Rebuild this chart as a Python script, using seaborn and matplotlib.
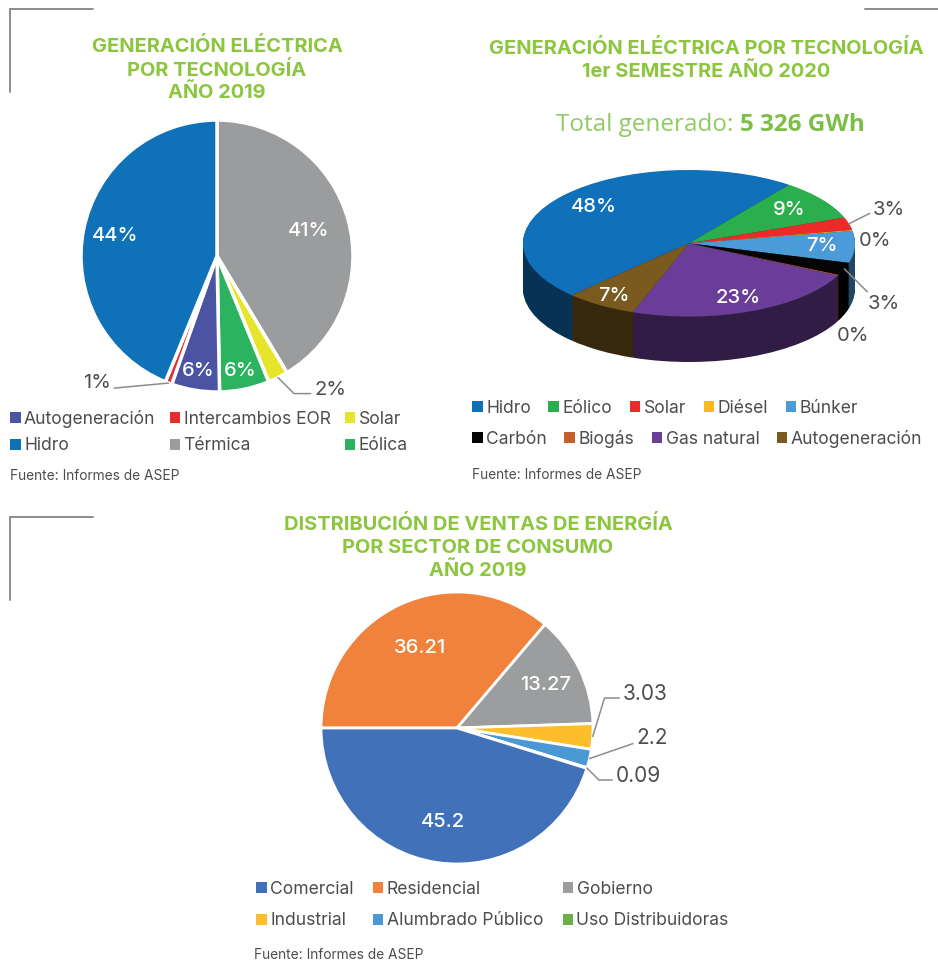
import numpy as np
import matplotlib
matplotlib.use("Agg")
import matplotlib.pyplot as plt
import matplotlib.colors as mcolors
from matplotlib.patches import Patch
from matplotlib.lines import Line2D
import seaborn as sns

sns.set_theme(style="white")
plt.rcParams['font.family'] = ['Inter', 'DejaVu Sans']

# ---------------- data ----------------
gen19_labels = ['Térmica', 'Solar', 'Eólica', 'Autogeneración', 'Intercambios EOR', 'Hidro']
gen19_values = [41.4, 2.4, 5.9, 5.7, 0.8, 43.8]
gen19_colors = ['#9A9C9D', '#E6E52B', '#2CB35F', '#4A54A3', '#E52D2B', '#0F72B9']
gen19_legend = ['Autogeneración', 'Intercambios EOR', 'Solar', 'Hidro', 'Térmica', 'Eólica']

gen20_labels = ['Hidro', 'Eólico', 'Solar', 'Diésel', 'Búnker', 'Carbón', 'Biogás',
                'Gas natural', 'Autogeneración']
gen20_values = [47.8, 9.0, 2.8, 0.2, 7.0, 2.8, 0.2, 23.2, 7.0]
gen20_colors = ['#1170BA', '#2BAE4E', '#EC2A2A', '#FBBA1A', '#4B9BD8', '#050505',
                '#C4602B', '#6A3E98', '#7A5A1E']
gen20_total = '5 326 GWh'

ventas_labels = ['Residencial', 'Gobierno', 'Industrial', 'Alumbrado Público',
                 'Uso Distribuidoras', 'Comercial']
ventas_values = [36.21, 13.27, 3.03, 2.2, 0.09, 45.2]
ventas_text = ['36.21', '13.27', '3.03', '2.2', '0.09', '45.2']
ventas_colors = ['#F0823B', '#9B9D9E', '#FDBE2B', '#4B99D4', '#6DB048', '#4171B8']
ventas_legend = ['Comercial', 'Residencial', 'Gobierno', 'Industrial',
                 'Alumbrado Público', 'Uso Distribuidoras']

GREEN = '#8CC63F'
TXT = '#4d4d4d'
LINE = '#8a8c8e'
LAB = 14.5   # slice label size

W, H = 938, 965
fig = plt.figure(figsize=(W / 100, H / 100), dpi=100)


def box(x0, y0, x1, y1):
    ax = fig.add_axes([x0 / W, 1 - y1 / H, (x1 - x0) / W, (y1 - y0) / H])
    ax.set_axis_off()
    return ax


def ftext(px, py, s, **kw):
    return fig.text(px / W, 1 - py / H, s, **kw)


def mid(w, r=1.0, cy=0.0):
    a = np.deg2rad((w.theta1 + w.theta2) / 2)
    return r * np.cos(a), cy + r * np.sin(a)


def leader(ax, w, s, px, py, cs='arc3', relpos=(0.5, 0.5), r=1.0, size=LAB, **kw):
    ax.annotate(s, xy=mid(w, r), xytext=(px, H - py), textcoords='figure pixels',
                ha=kw.pop('ha', 'center'), va='center', fontsize=size, color=TXT,
                annotation_clip=False,
                arrowprops=dict(arrowstyle='-', color=LINE, lw=1.1, shrinkA=0, shrinkB=0,
                                connectionstyle=cs, relpos=relpos))


def legend(names, colors, order, x, y, ncol, spacing, rows=2, rowgap=0.6):
    lut = dict(zip(names, colors))
    # legend fills column by column, reorder so it reads row by row
    if rows > 1:
        ordered = [order[r * ncol + c] for c in range(ncol) for r in range(rows)
                   if r * ncol + c < len(order)]
    else:
        ordered = list(order)
    handles = [Patch(facecolor=lut[n], edgecolor='none') for n in ordered]
    fig.legend(handles, ordered, loc='center left', bbox_to_anchor=(x / W, 1 - y / H),
               ncol=ncol, frameon=False, fontsize=12.6, labelcolor=TXT,
               handlelength=0.6, handleheight=0.6, handletextpad=0.2,
               columnspacing=spacing, borderpad=0, borderaxespad=0, labelspacing=rowgap)


def title(lines, cx, ys):
    for s, y in zip(lines, ys):
        ftext(cx, y, s, ha='center', va='center', fontsize=14.4, fontweight='bold', color=GREEN)


# corner brackets
for (x0, y0, x1, y1) in [(10, 9, 93, 9), (10, 9, 10, 92), (865, 9, 938, 9),
                         (10, 517, 93, 517), (10, 517, 10, 600)]:
    fig.add_artist(Line2D([x0 / W, x1 / W], [1 - y0 / H, 1 - y1 / H],
                          transform=fig.transFigure, color=LINE, lw=1.4))

# ---------------- chart 1: generación 2019 ----------------
title(['GENERACIÓN ELÉCTRICA', 'POR TECNOLOGÍA', 'AÑO 2019'], 217, [47, 70, 93])
cx, cy, R = 217, 256, 136
ax1 = box(cx - R, cy - R, cx + R, cy + R)
w1, _ = ax1.pie(gen19_values, colors=gen19_colors, startangle=90, counterclock=False,
                radius=1, wedgeprops=dict(edgecolor='white', linewidth=2.5))
ax1.set_aspect('auto')
ax1.set_xlim(-1, 1)
ax1.set_ylim(-1, 1)
inner_r = [0.70, None, 0.86, 0.86, None, 0.76]
for w, v, r in zip(w1, gen19_values, inner_r):
    if r is not None:
        ax1.text(*mid(w, r), f'{v:.0f}%', ha='center', va='center',
                 fontsize=LAB, color='white', fontweight='medium')
leader(ax1, w1[4], f'{gen19_values[4]:.0f}%', 97, 383, relpos=(1, 0.2))
leader(ax1, w1[1], f'{gen19_values[1]:.0f}%', 330, 390,
       cs='angle,angleA=0,angleB=-45', relpos=(0, 0.3))
legend(gen19_labels, gen19_colors, gen19_legend, 10, 432, 3, 0.8, rowgap=0.55)
ftext(10, 476, 'Fuente: Informes de ASEP', ha='left', va='center', fontsize=9.9, color=TXT)

# ---------------- chart 2: generación 1er semestre 2020 (pseudo 3D) ----------------
title(['GENERACIÓN ELÉCTRICA POR TECNOLOGÍA', '1er SEMESTRE AÑO 2020'], 706, [48, 72])
ftext(733, 125, 'Total generado:', ha='right', va='center', fontsize=17.5,
      color='#8FCB62', family=['Open Sans', 'DejaVu Sans'])
ftext(740, 125, gen20_total, ha='left', va='center', fontsize=17.5, fontweight='bold',
      color='#7DBE48', family=['Open Sans', 'DejaVu Sans'])

ex0, ex1, ey0, ey1 = 523, 855, 170, 362
depth = 0.62
ax2 = box(ex0, ey0, ex1, ey1)
side = [tuple(np.array(mcolors.to_rgb(c)) * 0.45) for c in gen20_colors]
for dz in np.linspace(depth, 0.01, 40):
    ax2.pie(gen20_values, colors=side, startangle=225, counterclock=False,
            radius=1, center=(0, -dz), wedgeprops=dict(linewidth=0))
w2, _ = ax2.pie(gen20_values, colors=gen20_colors, startangle=225, counterclock=False,
                radius=1, wedgeprops=dict(linewidth=0))
ax2.set_aspect('auto')
ax2.set_xlim(-1, 1)
ax2.set_ylim(-1 - depth, 1)
inner_r = [0.76, 0.75, None, None, 0.8, None, None, 0.8, 0.85]
for w, v, r in zip(w2, gen20_values, inner_r):
    if r is not None:
        ax2.text(*mid(w, r), f'{v:.0f}%', ha='center', va='center',
                 fontsize=LAB, color='white', fontweight='medium')
leader(ax2, w2[2], f'{gen20_values[2]:.0f}%', 889, 210, relpos=(0, 0.4))
ftext(875, 241, f'{gen20_values[3]:.0f}%', ha='center', va='center', fontsize=LAB, color=TXT)
leader(ax2, w2[5], f'{gen20_values[5]:.0f}%', 884, 304, r=1.0,
       cs='angle,angleA=0,angleB=-45', relpos=(0, 0.35))
ftext(853, 336, f'{gen20_values[6]:.0f}%', ha='center', va='center', fontsize=LAB, color=TXT)
legend(gen20_labels, gen20_colors, gen20_labels[:5], 472, 408, 5, 1.0, rows=1)
legend(gen20_labels, gen20_colors, gen20_labels[5:], 472, 439, 4, 1.0, rows=1)
ftext(472, 475, 'Fuente: Informes de ASEP', ha='left', va='center', fontsize=9.9, color=TXT)

# ---------------- chart 3: ventas por sector ----------------
title(['DISTRIBUCIÓN DE VENTAS DE ENERGÍA', 'POR SECTOR DE CONSUMO', 'AÑO 2019'],
      478, [524, 548, 571])
cx, cy, R = 457, 728, 136
ax3 = box(cx - R, cy - R, cx + R, cy + R)
w3, _ = ax3.pie(ventas_values, colors=ventas_colors, startangle=180, counterclock=False,
                radius=1, wedgeprops=dict(edgecolor='white', linewidth=2))
ax3.set_aspect('auto')
ax3.set_xlim(-1, 1)
ax3.set_ylim(-1, 1)
inner_r = [0.65, 0.72, None, None, None, 0.7]
for w, s, r in zip(w3, ventas_text, inner_r):
    if r is not None:
        ax3.text(*mid(w, r), s, ha='center', va='center',
                 fontsize=LAB, color='white', fontweight='medium')
leader(ax3, w3[2], ventas_text[2], 645, 694, cs='angle,angleA=0,angleB=73',
       relpos=(0, 0.3), size=15)
leader(ax3, w3[3], ventas_text[3], 652, 738, cs='angle,angleA=0,angleB=19',
       relpos=(0, 0.3), size=15)
leader(ax3, w3[4], ventas_text[4], 638, 776, cs='angle,angleA=0,angleB=-45',
       relpos=(0, 0.3), size=15)
legend(ventas_labels, ventas_colors, ventas_legend, 256, 905, 3, 1.1, rowgap=0.85)
ftext(254, 955, 'Fuente: Informes de ASEP', ha='left', va='center', fontsize=9.9, color=TXT)

fig.savefig('out.png', dpi=100, facecolor='white')
